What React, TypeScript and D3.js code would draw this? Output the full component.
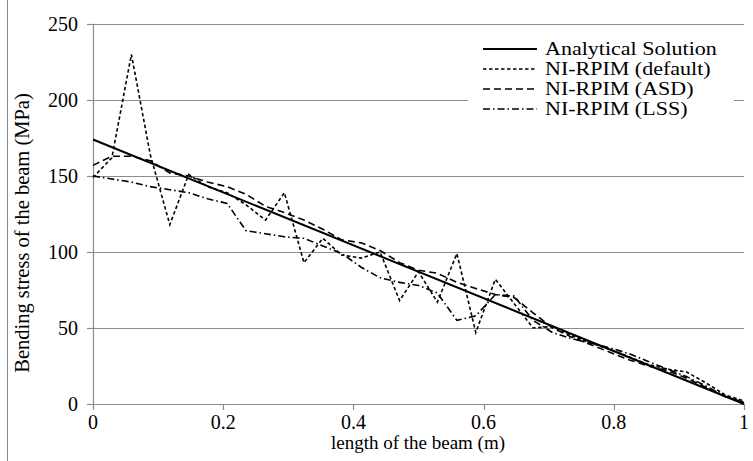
import React from "react";
import * as d3 from "d3";

const xs = [0, 0.029, 0.059, 0.088, 0.118, 0.147, 0.176, 0.206, 0.235, 0.265, 0.294, 0.324, 0.353, 0.382, 0.412, 0.441, 0.471, 0.5, 0.529, 0.559, 0.588, 0.618, 0.647, 0.676, 0.706, 0.735, 0.765, 0.794, 0.824, 0.853, 0.882, 0.912, 0.941, 0.971, 1];

const analyticalX = [0, 1];
const analyticalY = [174, 0];

const defaultY = [149, 162, 230, 164, 118, 151, 143, 139, 131, 121, 139, 93, 109, 98, 96, 100, 68, 87, 67, 99, 47, 82, 66, 50, 51, 45, 40, 36, 31, 26, 23, 21, 14, 6, 2];
const asdY = [157, 163, 163, 160, 152, 150, 146, 143, 138, 130, 126, 121, 115, 108, 106, 101, 93, 88, 86, 80, 76, 72, 70, 60, 50, 44, 39, 34, 29, 25, 22, 17, 11, 5, 1];
const lssY = [150, 148, 146, 143, 141, 139, 135, 132, 114, 112, 110, 109, 104, 99, 90, 83, 80, 78, 73, 55, 58, 72, 71, 55, 47, 43, 40, 37, 33, 28, 23, 18, 12, 5, 1];

const xTicks = [0, 0.2, 0.4, 0.6, 0.8, 1];
const xTickLabels = ["0", "0.2", "0.4", "0.6", "0.8", "1"];
const yTicks = [0, 50, 100, 150, 200, 250];

const legendNames = ["Analytical Solution", "NI-RPIM (default)", "NI-RPIM (ASD)", "NI-RPIM (LSS)"];

const W = 753, H = 461;
const FONT = "'Liberation Serif', 'Times New Roman', serif";

export default function App() {
  const x = d3.scaleLinear().domain([0, 1]).range([93, 744]);
  const y = d3.scaleLinear().domain([0, 250]).range([404, 24]);

  const line = d3.line<[number, number]>().x(d => x(d[0])).y(d => y(d[1]));
  const toPts = (vx: number[], vy: number[]) => vx.map((v, i) => [v, vy[i]] as [number, number]);

  const styles = [
    { dash: "none", w: 2 },
    { dash: "3.5,2.5", w: 1.6 },
    { dash: "7,4", w: 1.6 },
    { dash: "7,3,1.5,3", w: 1.6 },
  ];
  const series = [
    toPts(analyticalX, analyticalY),
    toPts(xs, defaultY),
    toPts(xs, asdY),
    toPts(xs, lssY),
  ];

  return (
    <svg width={W} height={H} style={{ position: "absolute", left: 0, top: 0, background: "#fff" }} fontFamily={FONT}>
      <rect x={0} y={0} width={W} height={H} fill="#fff" />
      <line x1={7.5} x2={7.5} y1={0} y2={H} stroke="#888" strokeWidth={1} />
      {yTicks.filter(t => t > 0).map(t => (
        <line key={t} x1={x(0)} x2={x(1)} y1={Math.round(y(t)) + 0.5} y2={Math.round(y(t)) + 0.5} stroke="#8c8c8c" strokeWidth={1.2} />
      ))}
      <line x1={x(0) + 0.5} x2={x(0) + 0.5} y1={y(250)} y2={y(0)} stroke="#8c8c8c" strokeWidth={1.2} />
      <line x1={x(0)} x2={x(1)} y1={y(0) + 0.5} y2={y(0) + 0.5} stroke="#8c8c8c" strokeWidth={1.2} />
      {yTicks.map(t => (
        <g key={t}>
          <line x1={x(0) - 6} x2={x(0)} y1={Math.round(y(t)) + 0.5} y2={Math.round(y(t)) + 0.5} stroke="#8c8c8c" strokeWidth={1.2} />
          <text x={78} y={y(t)} dy="0.35em" textAnchor="end" fontSize={20} fill="#000">{t}</text>
        </g>
      ))}
      {xTicks.map((t, i) => (
        <g key={t}>
          <line x1={Math.round(x(t)) + 0.5} x2={Math.round(x(t)) + 0.5} y1={y(0)} y2={y(0) + 6} stroke="#8c8c8c" strokeWidth={1.2} />
          <text x={x(t)} y={429} textAnchor="middle" fontSize={20} fill="#000">{xTickLabels[i]}</text>
        </g>
      ))}
      <text x={418} y={449} textAnchor="middle" fontSize={19} fill="#000">length of the beam (m)</text>
      <text transform={`translate(29,233) rotate(-90)`} textAnchor="middle" fontSize={20.5} fill="#000">Bending stress of the beam (MPa)</text>

      <rect x={468} y={38} width={266} height={80} fill="#fff" />
      {series.map((s, i) => (
        <path key={i} d={line(s) || ""} fill="none" stroke="#000" strokeWidth={styles[i].w} strokeDasharray={styles[i].dash} />
      ))}
      {legendNames.map((n, i) => {
        const ly = 49 + i * 20;
        return (
          <g key={n}>
            <line x1={483} x2={537} y1={ly} y2={ly} stroke="#000" strokeWidth={styles[i].w} strokeDasharray={styles[i].dash} />
            <text transform={`translate(545,${ly}) scale(1.19,1)`} x={0} y={0} dy="0.33em" fontSize={18.5} fill="#000">{n}</text>
          </g>
        );
      })}
    </svg>
  );
}
